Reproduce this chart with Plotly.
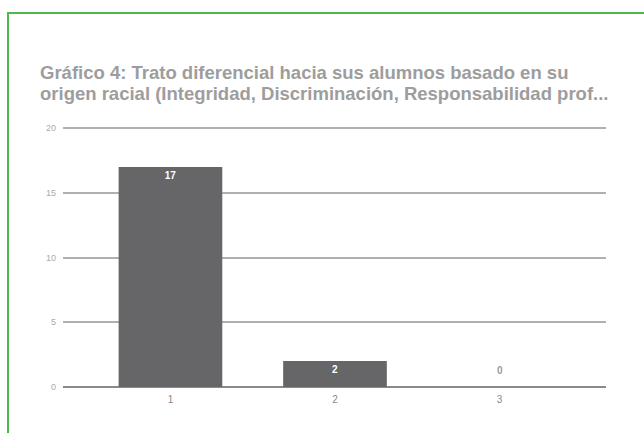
import plotly.graph_objects as go

categories = [1, 2, 3]
values = [17, 2, 0]
y_ticks = [0, 5, 10, 15, 20]
title_line1 = "Gráfico 4: Trato diferencial hacia sus alumnos basado en su"
title_line2 = "origen racial (Integridad, Discriminación, Responsabilidad prof..."

W, H = 644, 433
L, R, T, B = 63, 38, 123, 46
pw, ph = W - L - R, H - T - B


def px_x(x):
    return (x - L) / pw


def px_y(y):
    return (H - B - y) / ph


positions = ["inside" if v > 0 else "none" for v in values]

fig = go.Figure(go.Bar(
    x=categories, y=values,
    marker=dict(color="#666668", line=dict(width=0)),
    width=0.63,
    text=[f"<b>{v}</b>" for v in values],
    textposition=positions,
    insidetextanchor="end",
    insidetextfont=dict(color="white", size=10, family="Liberation Sans"),
    textangle=0,
    cliponaxis=False,
))

# labels for empty bars, placed above the axis
for c, v in zip(categories, values):
    if v == 0:
        fig.add_annotation(x=c, y=v, text=f"<b>{v}</b>", showarrow=False,
                           yshift=17, font=dict(color="#9a9a9a", size=10, family="Liberation Sans"))

# green frame around the figure
fig.add_shape(type="path", xref="paper", yref="paper",
              path=f"M {px_x(8)} {px_y(H + 20)} L {px_x(8)} {px_y(13)} L {px_x(W + 20)} {px_y(13)}",
              line=dict(color="#4cba48", width=2))

for txt, yc in [(title_line1, 73), (title_line2, 93)]:
    fig.add_annotation(
        text=f"<b>{txt}</b>", xref="paper", yref="paper",
        x=px_x(38), y=px_y(yc), xanchor="left", yanchor="middle",
        showarrow=False,
        font=dict(family="Liberation Sans", size=18.5, color="#9d9d9d"),
    )

fig.update_layout(
    width=W, height=H,
    margin=dict(l=L, r=R, t=T, b=B),
    paper_bgcolor="white", plot_bgcolor="white",
    showlegend=False,
    font=dict(family="Liberation Sans", color="#999999"),
)
fig.update_xaxes(
    range=[0.347, 3.647], tickvals=categories, ticktext=[str(c) for c in categories],
    showgrid=False, zeroline=False, showline=False, ticks="",
    tickfont=dict(size=10, color="#888888"), ticklabelstandoff=5,
)
fig.update_yaxes(
    range=[0, 20.4], tickvals=y_ticks, showgrid=True, gridcolor="#b0b0b0", gridwidth=1.5,
    zeroline=True, zerolinecolor="#8a8a8a", zerolinewidth=2, showline=False,
    ticks="", tickfont=dict(size=9, color="#aaaaaa"), ticklabelstandoff=6,
)
fig.write_html("out.html", config={"displayModeBar": False},
               post_script="document.body.style.margin='0';")
